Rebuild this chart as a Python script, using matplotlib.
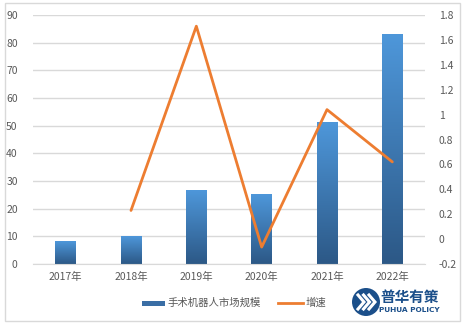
import matplotlib
matplotlib.use("Agg")
import matplotlib.pyplot as plt
import numpy as np
from matplotlib.patches import Rectangle, Ellipse
from matplotlib.colors import LinearSegmentedColormap

plt.rcParams['font.family'] = ['Noto Sans CJK SC', 'DejaVu Sans']

categories = ['2017年', '2018年', '2019年', '2020年', '2021年', '2022年']
market = [8.0, 9.8, 26.7, 25.0, 51.0, 82.8]
growth = [None, 0.23, 1.71, -0.064, 1.04, 0.62]

W, H = 464, 327
def fx(px):
    return px / W
def fy(py):
    return 1 - py / H

fig = plt.figure(figsize=(4.64, 3.27), dpi=100)
# outer border
fig.patches.append(Rectangle((fx(5), fy(321)), 455/W, 318/H, transform=fig.transFigure,
                             fill=False, edgecolor='#D9D9D9', lw=1))
ax = fig.add_axes([fx(33), fy(264), 392/W, 249/H])
ax2 = ax.twinx()

cmap = LinearSegmentedColormap.from_list('g', ['#2C5886', '#4E97DA'])
x = np.arange(len(categories))
w = 0.32
grad = np.linspace(0, 1, 256).reshape(-1, 1)
for xi, v in zip(x, market):
    ax.imshow(grad, extent=(xi - w/2, xi + w/2, 0, v), origin='lower', cmap=cmap,
              aspect='auto', zorder=2)
ax.set_xlim(-0.5, len(categories) - 0.5)
ax.set_ylim(0, 90)
ax.set_yticks(np.arange(0, 91, 10))
ax.set_xticks(x)
ax.set_xticklabels(categories)
ax.grid(axis='y', color='#D9D9D9', lw=1, zorder=0)
ax.set_axisbelow(True)
for s in ['top', 'left', 'right']:
    ax.spines[s].set_visible(False)
ax.spines['bottom'].set_color('#D9D9D9')
ax.tick_params(axis='both', length=0, labelsize=7.5, colors='#595959', pad=6)
ax.tick_params(axis='y', pad=11)

gx = [xi for xi, g in zip(x, growth) if g is not None]
gy = [g for g in growth if g is not None]
ax2.plot(gx, gy, color='#ED7D31', lw=2, solid_capstyle='round', zorder=3)
ax2.set_ylim(-0.2, 1.8)
ax2.set_yticks([-0.2, 0, 0.2, 0.4, 0.6, 0.8, 1, 1.2, 1.4, 1.6, 1.8])
ax2.set_yticklabels(['-0.2', '0', '0.2', '0.4', '0.6', '0.8', '1', '1.2', '1.4', '1.6', '1.8'])
for s in ['top', 'left', 'right', 'bottom']:
    ax2.spines[s].set_visible(False)
ax2.tick_params(axis='y', length=0, labelsize=7.5, colors='#595959', pad=10)

# legend
ly = fy(303)
fig.patches.append(Rectangle((fx(142), fy(305.5)), 23/W, 5/H, transform=fig.transFigure,
                             facecolor='#3A6EA5', edgecolor='none'))
fig.text(fx(168), ly, '手术机器人市场规模', fontsize=7.5, color='#595959', va='center', ha='left')
fig.lines.append(plt.Line2D([fx(278), fx(303)], [ly, ly], transform=fig.transFigure,
                            color='#ED7D31', lw=2))
fig.text(fx(306), ly, '增速', fontsize=7.5, color='#595959', va='center', ha='left')

# logo
cx, cy, r = 366, 302, 14
circ = Ellipse((fx(cx), fy(cy)), 2*r/W, 2*r/H, transform=fig.transFigure,
               facecolor='#1B4F8A', edgecolor='none')
fig.patches.append(circ)
for dx in [-8, -2.5, 3]:
    ln = plt.Line2D([fx(cx + dx), fx(cx + dx + 6), fx(cx + dx)],
                    [fy(cy - 7), fy(cy), fy(cy + 7)], transform=fig.transFigure,
                    color='white', lw=2.2, solid_joinstyle='miter')
    ln.set_clip_path(circ)
    fig.lines.append(ln)
fig.text(fx(409.5), fy(297), '普华有策', fontsize=10.5, color='#1B4F8A', ha='center', va='center',
         fontweight='bold')
fig.text(fx(409.5), fy(310), 'PUHUA POLICY', fontsize=5.3, color='#1B4F8A', ha='center',
         va='center', fontweight='bold', family='DejaVu Sans')

fig.savefig('out.png', dpi=100)
